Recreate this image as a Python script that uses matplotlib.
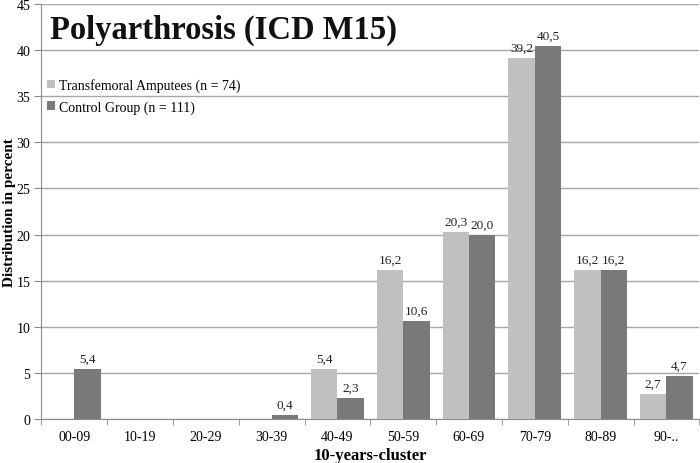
import numpy as np
import matplotlib.pyplot as plt

clusters = ["00-09", "10-19", "20-29", "30-39", "40-49", "50-59",
            "60-69", "70-79", "80-89", "90-.."]
amputees = [0, 0, 0, 0, 5.4, 16.2, 20.3, 39.2, 16.2, 2.7]
control = [5.4, 0, 0, 0.4, 2.3, 10.6, 20.0, 40.5, 16.2, 4.7]

plt.rcParams['font.family'] = ['Liberation Serif', 'DejaVu Serif']

fig = plt.figure(figsize=(7, 4.64), dpi=100)
ax = fig.add_axes([0.059, 0.095, 0.94, 0.894])

x = np.arange(len(clusters))
w = 0.4
b1 = ax.bar(x - w/2, amputees, w, color='#c0c0c0', label='Transfemoral Amputees (n = 74)', zorder=3)
b2 = ax.bar(x + w/2, control, w, color='#79797c', label='Control Group (n = 111)', zorder=3)

def lab(v):
    return "" if v == 0 else f"{v:.1f}".replace(".", ",")

ax.bar_label(b1, labels=[lab(v) for v in amputees], padding=3, fontsize=9.5, color='#222222')
ax.bar_label(b2, labels=[lab(v) for v in control], padding=3, fontsize=9.5, color='#222222')

ax.set_xlim(-0.5, len(clusters) - 0.5)
ax.set_ylim(0, 45)
ax.set_yticks(np.arange(0, 46, 5))
ax.yaxis.grid(True, color='#a6a6a6', linewidth=1, zorder=0)
ax.set_xticks(x)
ax.set_xticklabels(clusters, fontsize=10)
ax.set_xticks(np.arange(-0.5, len(clusters), 1), minor=True)
ax.tick_params(axis='x', which='major', length=0, pad=8)
ax.tick_params(axis='x', which='minor', length=4, color='#8c8c8c')
ax.tick_params(axis='y', length=5, color='#8c8c8c', labelsize=10, pad=3)
for s in ['top', 'right']:
    ax.spines[s].set_visible(False)
for s in ['left', 'bottom']:
    ax.spines[s].set_color('#8c8c8c')

ax.set_ylabel("Distribution in percent", fontsize=11, fontweight='bold')
ax.yaxis.set_label_coords(-0.039, 0.5)
ax.set_xlabel("10-years-cluster", fontsize=12, fontweight='bold', labelpad=3)

ax.text(-0.37, 41.4, "Polyarthrosis (ICD M15)", fontsize=23.5, fontweight='bold',
        va='baseline', ha='left', color='#111111')

ax.legend(loc='upper left', bbox_to_anchor=(-0.006, 0.845), frameon=False,
          fontsize=10, handlelength=0.6, handleheight=0.6, handletextpad=0.25,
          labelspacing=0.6, borderaxespad=0.3)

fig.savefig("out.png", dpi=100)
